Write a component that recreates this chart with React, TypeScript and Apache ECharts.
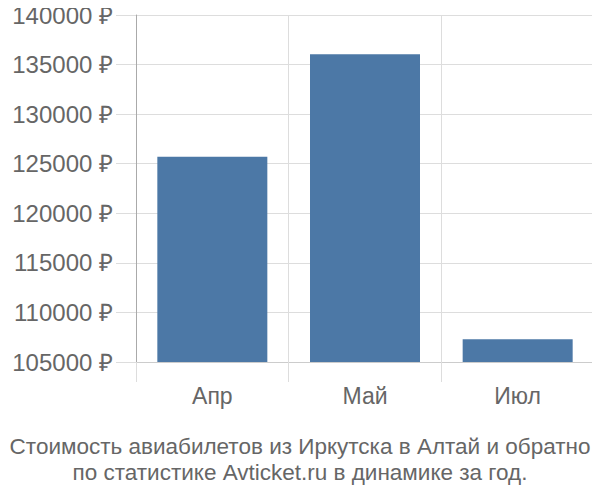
import React, { useEffect, useRef } from "react";
import * as echarts from "echarts";

const categories = ["Апр", "Май", "Июл"];
const prices = [125700, 136050, 107300];
const yMin = 105000;
const yMax = 140000;
const yStep = 5000;
const titleLines = [
  "Стоимость авиабилетов из Иркутска в Алтай и обратно",
  "по статистике Avticket.ru в динамике за год.",
];

export default function App() {
  const ref = useRef<HTMLDivElement>(null);
  useEffect(() => {
    if (!ref.current) return;
    const chart = echarts.init(ref.current, null, { renderer: "svg" });
    const font = "'Liberation Sans', Arial, sans-serif";
    chart.setOption({
      animation: false,
      textStyle: { fontFamily: font },
      title: {
        text: titleLines.join("\n"),
        left: "center",
        top: 433,
        padding: 0,
        textStyle: {
          fontSize: 22.5,
          lineHeight: 26,
          fontWeight: "normal",
          color: "#666",
          fontFamily: font,
        },
      },
      grid: { left: 136, right: 6, top: 15, bottom: 138, containLabel: false },
      xAxis: {
        type: "category",
        data: categories,
        axisLine: { show: true, lineStyle: { color: "#ccc", width: 1 } },
        axisTick: { show: true, length: 20, interval: 0, lineStyle: { color: "#ddd" } },
        splitLine: { show: true, interval: 0, lineStyle: { color: "#ddd" } },
        axisLabel: { fontSize: 23, color: "#666", margin: 22, fontFamily: font },
      },
      yAxis: {
        type: "value",
        min: yMin,
        max: yMax,
        interval: yStep,
        axisLine: { show: true, lineStyle: { color: "#aaa", width: 1 } },
        axisTick: { show: true, length: 20, lineStyle: { color: "#ddd" } },
        splitLine: { show: true, lineStyle: { color: "#ddd" } },
        axisLabel: {
          fontSize: 24,
          color: "#666",
          margin: 23,
          fontFamily: font,
          formatter: (v: number) => `${v} ₽`,
        },
      },
      series: [
        {
          type: "bar",
          data: prices,
          barWidth: 110,
          itemStyle: { color: "#4c78a6" },
        },
      ],
    });
    return () => chart.dispose();
  }, []);
  return <div ref={ref} style={{ width: 600, height: 500, margin: -8 }} />;
}
